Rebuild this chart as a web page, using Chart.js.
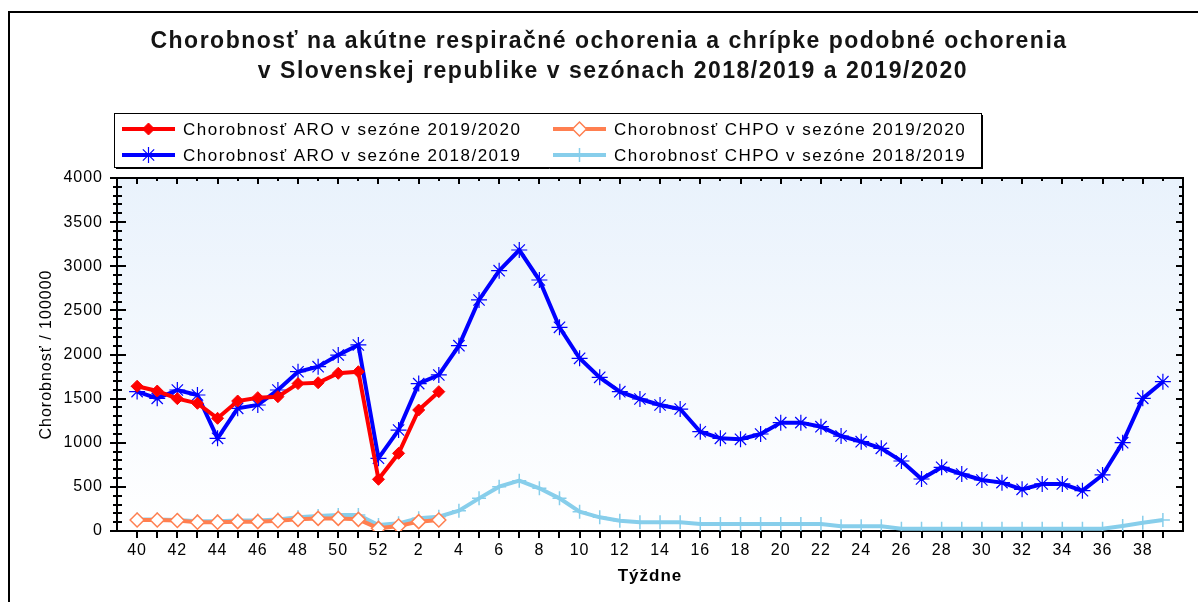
<!DOCTYPE html>
<html><head><meta charset="utf-8">
<script src="https://cdn.jsdelivr.net/npm/chart.js@4"></script>
<style>html,body{margin:0;padding:0;background:#fff}#wrap{width:1198px;height:602px}</style>
</head><body><div id="wrap"><canvas id="c" width="1198" height="602"></canvas></div>
<script>
const weeks = [40,41,42,43,44,45,46,47,48,49,50,51,52,1,2,3,4,5,6,7,8,9,10,11,12,13,14,15,16,17,18,19,20,21,22,23,24,25,26,27,28,29,30,31,32,33,34,35,36,37,38,39];
const aro1920 = [1640,1586,1500,1447,1277,1473,1511,1522,1670,1680,1787,1805,586,880,1371,1579];
const chpo1920 = [125,125,119,100,100,106,106,117,132,143,143,132,30,57,106,125];
const aro1819 = [1580,1503,1598,1541,1050,1390,1428,1598,1805,1862,1994,2108,824,1144,1670,1768,2100,2618,2950,3184,2844,2308,1957,1741,1579,1496,1428,1382,1125,1050,1039,1099,1228,1228,1182,1076,1012,937,793,589,722,646,578,548,472,533,533,457,635,1001,1503,1692];
const chpo1819 = [130,130,125,110,110,120,120,130,155,170,181,181,68,87,144,162,230,370,502,570,484,370,219,155,117,100,100,100,80,80,80,80,80,80,80,55,55,55,25,25,25,25,25,25,25,25,25,25,25,57,94,125];
const yTickLabels = [0,500,1000,1500,2000,2500,3000,3500,4000];
const seriesLabels = ['Chorobnosť ARO v sezóne 2019/2020','Chorobnosť CHPO v sezóne 2019/2020','Chorobnosť ARO v sezóne 2018/2019','Chorobnosť CHPO v sezóne 2018/2019'];
const titleLines = ['Chorobnosť na akútne respiračné ochorenia a chrípke podobné ochorenia','v Slovenskej republike v sezónach 2018/2019 a 2019/2020'];

const FONT = "'Liberation Sans', Arial, sans-serif";
const toXY = arr => arr.map((v,i)=>({x:i,y:v}));

const spacingPlugin = {
  id:'spacing',
  beforeLayout(chart){ chart.ctx.letterSpacing = '1px'; },
  beforeDraw(chart){ chart.ctx.letterSpacing = '1px'; }
};

const bgPlugin = {
  id:'bg',
  beforeDraw(chart){
    const {ctx, chartArea:a} = chart;
    ctx.save();
    const g = ctx.createLinearGradient(0,a.top,0,a.bottom);
    g.addColorStop(0,'#e9f2fc');
    g.addColorStop(1,'#ffffff');
    ctx.fillStyle = g;
    ctx.fillRect(a.left,a.top,a.right-a.left,a.bottom-a.top);
    ctx.strokeStyle='#000'; ctx.lineWidth=2;
    ctx.strokeRect(9,12,1400,1000);
    ctx.fillStyle='#141414';
    ctx.font = "bold 23px "+FONT;
    ctx.letterSpacing='1.5px';
    ctx.textAlign='center'; ctx.textBaseline='middle';
    ctx.fillText(titleLines[0], 609, 42);
    ctx.fillText(titleLines[1], 613, 72);
    ctx.restore();
  },
  beforeDatasetsDraw(chart){
    const {ctx, chartArea:a, scales} = chart;
    const xs = scales.x, ys = scales.y;
    ctx.save();
    ctx.strokeStyle='#000'; ctx.lineWidth=2;
    ctx.beginPath();
    weeks.forEach((w,i)=>{
      const x = Math.round(xs.getPixelForValue(i));
      ctx.moveTo(x,a.bottom); ctx.lineTo(x,a.bottom+7);
      ctx.moveTo(x,a.top); ctx.lineTo(x,a.top+(i%2===0?6:3));
    });
    for(let v=0; v<=4000; v+=100){
      const y = Math.round(ys.getPixelForValue(v));
      const major = v%500===0;
      ctx.moveTo(a.left-(major?7:4), y); ctx.lineTo(a.left+(major?9:5), y);
      ctx.moveTo(a.right-(major?7:4), y); ctx.lineTo(a.right+1, y);
    }
    ctx.stroke();
    ctx.beginPath(); ctx.moveTo(a.left,a.top); ctx.lineTo(a.right,a.top); ctx.stroke();
    ctx.restore();
  }
};

const legendPlugin = {
  id:'customLegend',
  afterDraw(chart){
    const ctx = chart.ctx;
    ctx.save();
    ctx.strokeStyle='#000'; ctx.lineWidth=1;
    ctx.strokeRect(114.5,113.5,867,54);
    ctx.beginPath(); ctx.moveTo(116,168.5); ctx.lineTo(983,168.5); ctx.moveTo(982.5,115); ctx.lineTo(982.5,169); ctx.stroke();
    const pos = [[122,129],[553,129],[122,155],[553,155]];
    chart.data.datasets.forEach((ds,i)=>{
      const [x,y] = pos[i];
      ctx.strokeStyle = ds.borderColor; ctx.lineWidth = ds.borderWidth;
      ctx.beginPath(); ctx.moveTo(x,y); ctx.lineTo(x+53,y); ctx.stroke();
      ctx.fillStyle = ds.pointBackgroundColor; ctx.strokeStyle = ds.borderColor; ctx.lineWidth = ds.pointBorderWidth;
      Chart.helpers.drawPoint(ctx,{pointStyle:ds.pointStyle,radius:ds.pointRadius,borderWidth:ds.pointBorderWidth,rotation:0},x+26.5,y);
      ctx.fillStyle='#000';
      ctx.font = "17px "+FONT;
      ctx.letterSpacing='1.5px';
      ctx.textAlign='left';
      ctx.textBaseline='middle';
      ctx.fillText(ds.label, x+61, y+1);
    });
    ctx.restore();
  }
};

new Chart(document.getElementById('c'), {
  type:'line',
  data:{
    datasets:[
      {label:seriesLabels[0], data:toXY(aro1920), borderColor:'#ff0000', backgroundColor:'#ff0000', pointBackgroundColor:'#ff0000', borderWidth:4, pointStyle:'rectRot', pointRadius:6, pointBorderWidth:1},
      {label:seriesLabels[1], data:toXY(chpo1920), borderColor:'#ff7f50', backgroundColor:'#ffffff', pointBackgroundColor:'#ffffff', borderWidth:4, pointStyle:'rectRot', pointRadius:7, pointBorderWidth:1.5},
      {label:seriesLabels[2], data:toXY(aro1819), borderColor:'#0000ff', backgroundColor:'#0000ff', pointBackgroundColor:'#0000ff', borderWidth:4, pointStyle:'star', pointRadius:8, pointBorderWidth:1.2},
      {label:seriesLabels[3], data:toXY(chpo1819), borderColor:'#87ceeb', backgroundColor:'#87ceeb', pointBackgroundColor:'#87ceeb', borderWidth:4, pointStyle:'cross', pointRadius:7, pointBorderWidth:1.5}
    ]
  },
  options:{
    responsive:false, animation:false, devicePixelRatio:1,
    elements:{line:{tension:0}},
    layout:{padding:{left:0,right:0,top:178,bottom:0}},
    plugins:{
      legend:{display:false},
      tooltip:{enabled:false},
      title:{display:false}
    },
    scales:{
      x:{type:'linear', min:-1, max:52, position:'bottom',
        afterBuildTicks(s){ s.ticks = weeks.map((w,i)=>({value:i})); },
        afterFit(s){ s.height = 71; },
        ticks:{autoSkip:false, maxRotation:0, padding:10, color:'#000', font:{family:FONT,size:16},
          callback:(v)=> (v%2===0 ? String(weeks[v]) : '')},
        grid:{display:false, drawTicks:false},
        border:{display:true, color:'#000', width:2},
        title:{display:true, text:'Týždne', color:'#000', font:{family:FONT,size:17,weight:'bold'}, padding:{top:0,bottom:15}}
      },
      y:{type:'linear', min:0, max:4000, position:'left',
        afterBuildTicks(s){ s.ticks = yTickLabels.map(v=>({value:v})); },
        afterFit(s){ s.width = 117; },
        ticks:{padding:14, color:'#000', font:{family:FONT,size:16}, callback:(v)=>String(v)},
        grid:{display:false, drawTicks:false},
        border:{display:true, color:'#000', width:2},
        title:{display:true, text:'Chorobnosť / 100000', color:'#000', font:{family:FONT,size:16}, padding:{top:37,bottom:0}}
      },
      y2:{type:'linear', min:0, max:4000, position:'right',
        afterFit(s){ s.width = 15; },
        ticks:{display:false},
        grid:{display:false, drawTicks:false},
        border:{display:true, color:'#000', width:2}
      }
    }
  },
  plugins:[spacingPlugin, bgPlugin, legendPlugin]
});
</script></body></html>
